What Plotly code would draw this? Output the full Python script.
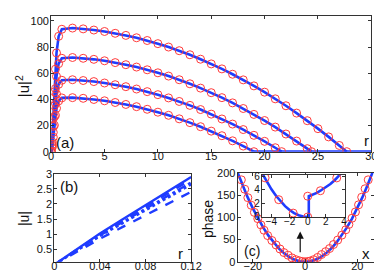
import plotly.graph_objects as go

# ---------------- data ----------------
# panel (a): density profiles |u|^2 vs r
r1 = [0, 0.1, 0.2, 0.3, 0.4, 0.5, 0.7, 1, 2, 3, 4, 5, 6, 7, 8, 9, 10, 11, 12, 13, 14, 15, 16, 17, 18, 19, 20, 21, 22, 23, 24, 25, 26, 27, 27.7]
u1 = [0, 7.35, 25.3, 45.8, 63.1, 75.5, 88.2, 93.6, 94.5, 93.9, 93.0, 91.9, 90.5, 88.9, 87.1, 85.0, 82.6, 80.0, 77.2, 74.1, 70.7, 67.1, 63.3, 59.2, 54.9, 50.3, 45.5, 40.4, 35.1, 29.5, 23.7, 17.6, 11.3, 4.75, 0]
r2 = [0, 0.1, 0.2, 0.3, 0.4, 0.5, 0.7, 1, 2, 3, 4, 5, 6, 7, 8, 9, 10, 11, 12, 13, 14, 15, 16, 17, 18, 19, 20, 21, 22, 23, 24, 24.4]
u2 = [0, 5.61, 19.3, 35.0, 48.2, 57.6, 67.3, 71.4, 72.0, 71.4, 70.6, 69.5, 68.1, 66.5, 64.7, 62.6, 60.3, 57.8, 55.0, 51.9, 48.6, 45.1, 41.3, 37.3, 33.0, 28.5, 23.8, 18.8, 13.5, 8.1, 2.3, 0]
r3 = [0, 0.1, 0.2, 0.3, 0.4, 0.5, 0.7, 1, 2, 3, 4, 5, 6, 7, 8, 9, 10, 11, 12, 13, 14, 15, 16, 17, 18, 19, 20, 21, 21.6]
u3 = [0, 4.30, 14.8, 26.8, 36.9, 44.1, 51.5, 54.6, 55.0, 54.4, 53.6, 52.5, 51.2, 49.7, 47.9, 45.9, 43.6, 41.1, 38.4, 35.4, 32.2, 28.7, 25.0, 21.1, 16.9, 12.5, 7.9, 3.0, 0]
r4 = [0, 0.1, 0.2, 0.3, 0.4, 0.5, 0.7, 1, 2, 3, 4, 5, 6, 7, 8, 9, 10, 11, 12, 13, 14, 15, 16, 17, 18, 19]
u4 = [0, 3.24, 11.1, 20.2, 27.8, 33.2, 38.8, 41.1, 41.3, 40.8, 39.9, 38.9, 37.6, 36.1, 34.4, 32.4, 30.2, 27.8, 25.1, 22.2, 19.1, 15.7, 12.2, 8.3, 4.3, 0]
r_base = [19, 30]
u_base = [0, 0]

# panel (b): |u| near the core
rb = [0, 0.02, 0.04, 0.06, 0.08, 0.10, 0.12]
ub1 = [0, 0.52, 1.03, 1.50, 1.97, 2.43, 2.89]
ub2 = [0, 0.505, 1.00, 1.46, 1.915, 2.36, 2.81]
ub3 = [0, 0.49, 0.966, 1.41, 1.85, 2.28, 2.71]
ub4 = [0, 0.475, 0.94, 1.37, 1.80, 2.22, 2.64]
ub5 = [0, 0.43, 0.855, 1.245, 1.635, 2.02, 2.40]

# panel (c): phase
xc_line = [-25.8, -24, -22, -20, -18, -16, -14, -12, -10, -8, -6, -4, -2, 0, 2, 4, 6, 8, 10, 12, 14, 16, 18, 20, 22, 24, 26]
pc_line = [199.7, 172.8, 145.2, 120, 97.2, 76.8, 58.8, 43.2, 30, 19.2, 10.8, 4.8, 1.2, 0, 1.2, 4.8, 10.8, 19.2, 30, 43.2, 58.8, 76.8, 97.2, 120, 145.2, 172.8, 202.8]
xc_pts = [-24.4, -23.1, -21.9, -20.6, -19.4, -18.1, -16.9, -15.7, -14.3, -12.7, -11.1, -9.6, -8.1, -6.5, -5.0, -3.5, -2.2, -1.0, 0, 1.0, 2.0, 3.3, 4.8, 6.3, 7.9, 9.4, 10.9, 12.5, 14.1, 15.6, 16.8, 18.0, 19.3, 20.5, 21.7, 23.0, 24.2]
pc_pts = [184, 163, 144, 127, 111, 97, 83, 71, 59, 48, 38, 29, 21, 15, 9, 5, 2.5, 1, 0, 1, 2, 5, 10, 16.5, 23, 30, 39, 49, 60, 72, 84, 98, 112, 128, 145, 164, 184]

# inset of (c)
xi_line = [-5.1, -4.5, -4, -3.5, -3, -2.5, -2, -1.5, -1, -0.5, 0, 0.12, 0.12, 0.5, 1.0, 1.4, 2.0, 2.5, 3.0, 3.2, 3.6]
pi_line = [6.6, 5.15, 4.08, 3.12, 2.3, 1.6, 1.02, 0.57, 0.26, 0.06, 0, 0, 3.06, 3.25, 3.55, 3.87, 4.35, 4.85, 5.45, 5.76, 6.3]
xi_pts = [-4.7, -3.2, -1.6, 0, 0, 1.4, 3.2]
pi_pts = [5.76, 2.55, 0.57, 0, 3.06, 3.87, 5.76]

# ---------------- style ----------------
BLUE = "#1f3cff"
RED = "#ff3b3b"
FONT = "Liberation Sans"
W, H = 382, 273

fig = go.Figure()

def line(x, y, xa, ya, width=2.6, dash="solid"):
    fig.add_trace(go.Scatter(x=x, y=y, mode="lines", xaxis=xa, yaxis=ya,
                             line=dict(color=BLUE, width=width, dash=dash),
                             showlegend=False, hoverinfo="skip"))

def pts(x, y, xa, ya, size=8):
    fig.add_trace(go.Scatter(x=x, y=y, mode="markers", xaxis=xa, yaxis=ya,
                             marker=dict(symbol="circle-open", color=RED, size=size,
                                         line=dict(width=1, color=RED)),
                             showlegend=False, hoverinfo="skip"))

# (a)
line(r_base, u_base, "x", "y")
for r, u in [(r1, u1), (r2, u2), (r3, u3), (r4, u4)]:
    line(r, u, "x", "y")
for r, u in [(r1, u1), (r2, u2), (r3, u3), (r4, u4)]:
    pts(r, u, "x", "y")

# (b)
line(rb, ub1, "x2", "y2", 2.4, "solid")
line(rb, ub2, "x2", "y2", 2.4, "dash")
line(rb, ub3, "x2", "y2", 2.4, "dashdot")
line(rb, ub4, "x2", "y2", 2.4, "dot")
line(rb, ub5, "x2", "y2", 2.4, "dash")

# (c)
line(xc_line, pc_line, "x3", "y3")
pts(xc_pts, pc_pts, "x3", "y3")

# inset
line(xi_line, pi_line, "x4", "y4")
pts(xi_pts, pi_pts, "x4", "y4")

def px_x(a, b):
    return [a / W, b / W]

def px_y(top, bottom):
    return [(H - bottom) / H, (H - top) / H]

ax_common = dict(showline=True, linecolor="#333", linewidth=1, mirror="ticks",
                 ticks="inside", ticklen=3, tickcolor="#333", showgrid=False,
                 zeroline=False, tickfont=dict(family=FONT, size=11, color="#111"))

tf_small = dict(family=FONT, size=10, color="#111")

XS = dict(ticklabelstandoff=-6)
YS = dict(ticklabelstandoff=-1)
XS4 = dict(ticklabelstandoff=-5)

fig.update_layout(
    width=W, height=H, margin=dict(l=0, r=0, t=0, b=0),
    paper_bgcolor="white", plot_bgcolor="white",
    font=dict(family=FONT, color="#111"),
    xaxis=dict(domain=px_x(41.7, 374), range=[0, 30], tickvals=[0, 5, 10, 15, 20, 25, 30], anchor="y", **XS, **ax_common),
    yaxis=dict(domain=px_y(2, 144), range=[0, 103.8], tickvals=[0, 20, 40, 60, 80, 100], anchor="x", **YS, **ax_common),
    xaxis2=dict(domain=px_x(45, 187), range=[0, 0.12], tickvals=[0, 0.04, 0.08, 0.12], anchor="y2", **XS, **ax_common),
    yaxis2=dict(domain=px_y(167, 259), range=[0.1, 3], tickvals=[0.5, 1, 1.5, 2, 2.5, 3], anchor="x2", **YS, **ax_common),
    xaxis3=dict(domain=px_x(235.3, 376.5), range=[-25.8, 26.3], tickvals=[-20, 0, 20], anchor="y3", **XS, **ax_common),
    yaxis3=dict(domain=px_y(166, 259.3), range=[0, 200], tickvals=[0, 50, 100, 150, 200], anchor="x3", **YS, **ax_common),
    xaxis4=dict(domain=px_x(260.3, 346.3), range=[-5.07, 4.07], tickvals=[-4, -2, 0, 2, 4], anchor="y4",
                **XS4, **{**ax_common, "tickfont": tf_small}),
    yaxis4=dict(domain=px_y(168.3, 212.3), range=[0, 6.2], tickvals=[0, 2, 4, 6], anchor="x4",
                **YS, **{**ax_common, "tickfont": tf_small}),
)

def txt(x, y, s, size=15, angle=0):
    fig.add_annotation(x=x / W, y=(H - y) / H, xref="paper", yref="paper", text=s,
                       showarrow=False, textangle=angle, xanchor="center", yanchor="middle",
                       font=dict(family=FONT, size=size, color="#111"))

txt(12, 76, "|u|<sup>2</sup>", 15, -90)
txt(56, 134, "(a)", 15)
txt(369, 132, "r", 15)
txt(13, 214, "|u|", 14, -90)
txt(60, 180, "(b)", 15)
txt(176, 251, "r", 15)
txt(204, 215, "phase", 14, -90)
txt(250, 248, "(c)", 14)
txt(368, 250, "x", 15)

fig.add_annotation(x=-1.85, y=68, ax=-1.85, ay=18, xref="x3", yref="y3", axref="x3", ayref="y3",
                   text="", showarrow=True, arrowhead=2, arrowsize=1.2, arrowwidth=1.2, arrowcolor="#111")

fig.write_html("out.html")
